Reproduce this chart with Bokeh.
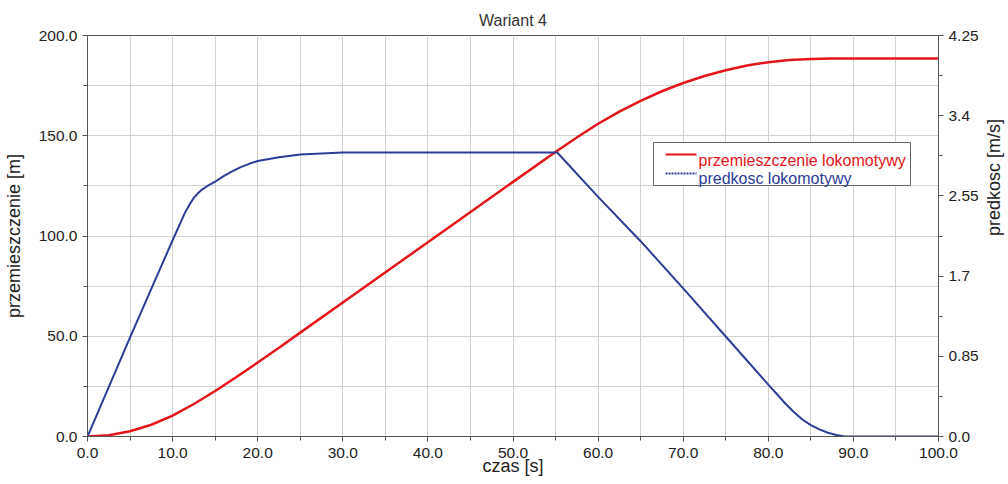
import math
from bokeh.plotting import figure
from bokeh.models import (LinearAxis, Range1d, SingleIntervalTicker, FixedTicker,
                          NumeralTickFormatter, CustomJSTickFormatter, Label, Arrow)
from bokeh.embed import file_html
from bokeh.resources import INLINE

# ---- data ----
title_text = "Wariant 4"
x_label = "czas [s]"
y_left_label = "przemieszczenie [m]"
y_right_label = "predkosc [m/s]"
name_disp = "przemieszczenie lokomotywy"
name_vel = "predkosc lokomotywy"

t_disp = [0, 2.5, 5, 7.5, 10, 12.5, 15, 17.5, 20, 22.5, 25, 30, 40, 50, 55.2,
          57.5, 60, 62.5, 65, 67.5, 70, 72.5, 75, 77.5, 80, 82.5, 85, 87.5, 90, 100]
disp = [0, 0.65, 2.6, 5.85, 10.4, 16.2, 22.7, 29.7, 36.9, 44.3, 51.8, 66.8, 96.9, 127.0, 142.5,
        149.1, 156.0, 162.0, 167.4, 172.2, 176.3, 179.8, 182.7, 185.0, 186.7, 187.8, 188.3, 188.5, 188.5, 188.5]

t_vel = [0, 5, 10, 11, 11.5, 12, 12.5, 13, 13.5, 14, 15, 16, 17, 18, 19, 20, 22.5, 25, 30, 40, 50, 55.2,
         60, 65, 70, 75, 80, 81, 82, 83, 84, 85, 86, 87, 88, 89, 95, 100]
vel = [0, 1.05, 2.08, 2.28, 2.38, 2.46, 2.53, 2.58, 2.62, 2.65, 2.70, 2.76, 2.81, 2.855, 2.89, 2.92, 2.96, 2.99,
       3.01, 3.01, 3.01, 3.01,
       2.54, 2.07, 1.57, 1.06, 0.55, 0.45, 0.35, 0.26, 0.18, 0.12, 0.075, 0.04, 0.015, 0.0, 0.0, 0.0]

x_start, x_end, x_step = 0, 100, 10
y_left_start, y_left_end, y_left_step = 0, 200, 50
right_ticks = [0, 0.85, 1.7, 2.55, 3.4, 4.25]
right_minor = [0.425, 1.275, 2.125, 2.975, 3.825]
right_labels = ["0.0", "0.85", "1.7", "2.55", "3.4", "4.25"]

FONT = "Liberation Sans"
RED = "#e4151b"
BLUE = "#2c3d97"
AXIS = "#555555"
GRID = "#d2d2d2"
TXT = "#222222"
TICK_FS = "15.5px"
LABEL_FS = "18px"

# frame geometry (pixels)
FL, FT, FW, FH = 87, 35, 851, 401
FB = FT + FH

p = figure(frame_width=FW, frame_height=FH,
           min_border_left=FL, min_border_right=70, min_border_top=FT, min_border_bottom=46,
           x_range=Range1d(x_start, x_end), y_range=Range1d(y_left_start, y_left_end),
           output_backend="svg", toolbar_location=None, title=title_text,
           background_fill_color="white", border_fill_color="white")
p.extra_y_ranges = {"v": Range1d(right_ticks[0], right_ticks[-1])}


def px_x(px):  # pixel column -> data x
    return x_start + (px - FL) / FW * (x_end - x_start)


def px_y(py):  # pixel row -> left-axis data y
    return y_left_start + (FB - py) / FH * (y_left_end - y_left_start)


p.title.align = "center"
p.title.text_font = FONT
p.title.text_font_size = "16px"
p.title.text_font_style = "normal"
p.title.text_color = "#333333"
p.title.standoff = 13

xt = SingleIntervalTicker(interval=x_step, num_minor_ticks=2)
yt = SingleIntervalTicker(interval=y_left_step, num_minor_ticks=2)
p.xaxis.ticker = xt
p.yaxis.ticker = yt
p.xgrid.ticker = xt
p.ygrid.ticker = yt
p.xaxis.formatter = NumeralTickFormatter(format="0.0")
p.yaxis.formatter = NumeralTickFormatter(format="0.0")
p.xaxis.axis_label = x_label
p.yaxis.axis_label = y_left_label

for g in (p.xgrid, p.ygrid):
    g.grid_line_color = GRID
    g.minor_grid_line_color = GRID
    g.grid_line_width = 1

p.outline_line_color = AXIS
p.outline_line_width = 1

raxis = LinearAxis(y_range_name="v", axis_label=y_right_label,
                   ticker=FixedTicker(ticks=right_ticks, minor_ticks=right_minor),
                   formatter=CustomJSTickFormatter(args=dict(rt=right_ticks, rl=right_labels), code="""
                       let best = 0, d = 1e9;
                       for (let i = 0; i < rt.length; i++) {
                         const dd = Math.abs(rt[i] - tick);
                         if (dd < d) { d = dd; best = i; }
                       }
                       return rl[best];
                   """))
p.add_layout(raxis, "right")

for ax in (p.xaxis[0], p.yaxis[0], raxis):
    ax.axis_line_color = AXIS
    ax.major_tick_line_color = AXIS
    ax.minor_tick_line_color = AXIS
    ax.major_tick_out = 5
    ax.major_tick_in = 0
    ax.minor_tick_out = 4
    ax.minor_tick_in = 0
    ax.major_label_text_font = FONT
    ax.major_label_text_font_size = TICK_FS
    ax.major_label_text_color = TXT
    ax.axis_label_text_font = FONT
    ax.axis_label_text_font_size = LABEL_FS
    ax.axis_label_text_font_style = "normal"
    ax.axis_label_text_color = TXT

p.xaxis.major_label_standoff = 6
p.xaxis.axis_label_standoff = -5
p.yaxis.major_label_standoff = 5
p.yaxis.axis_label_standoff = 12
raxis.major_label_standoff = 5
raxis.axis_label_standoff = 12

# right axis title reads bottom-to-top as in the reference
if "axis_label_orientation" in LinearAxis.properties():
    raxis.axis_label_orientation = math.pi / 2
    raxis.axis_label_text_align = "center"
    raxis.axis_label_text_baseline = "middle"

# ---- series ----
p.line(t_disp, disp, line_color=RED, line_width=2.5)
p.line(t_vel, vel, line_color=BLUE, line_width=2, y_range_name="v")

# ---- legend (drawn by hand so each label keeps its series colour) ----
p.quad(left=[px_x(653)], right=[px_x(910)], top=[px_y(142)], bottom=[px_y(185)],
       fill_color="white", fill_alpha=1, line_color="#666666", line_width=1)

p.add_layout(Arrow(end=None, x_start=px_x(665), x_end=px_x(696), y_start=px_y(154), y_end=px_y(154),
                   line_color=RED, line_width=2, level="overlay"))
p.add_layout(Arrow(end=None, x_start=px_x(665), x_end=px_x(696), y_start=px_y(173), y_end=px_y(173),
                   line_color=BLUE, line_width=2, line_dash="2 1", level="overlay"))

p.add_layout(Label(x=698 - FL, y=FB - 160, x_units="screen", y_units="screen", text=name_disp,
                   level="overlay", text_baseline="alphabetic", text_color=RED,
                   text_font=FONT, text_font_size="16px"))
p.add_layout(Label(x=698 - FL, y=FB - 177.5, x_units="screen", y_units="screen", text=name_vel,
                   level="overlay", text_baseline="alphabetic", text_color=BLUE,
                   text_font=FONT, text_font_size="16px"))

open("out.html", "w").write(file_html(p, INLINE))
